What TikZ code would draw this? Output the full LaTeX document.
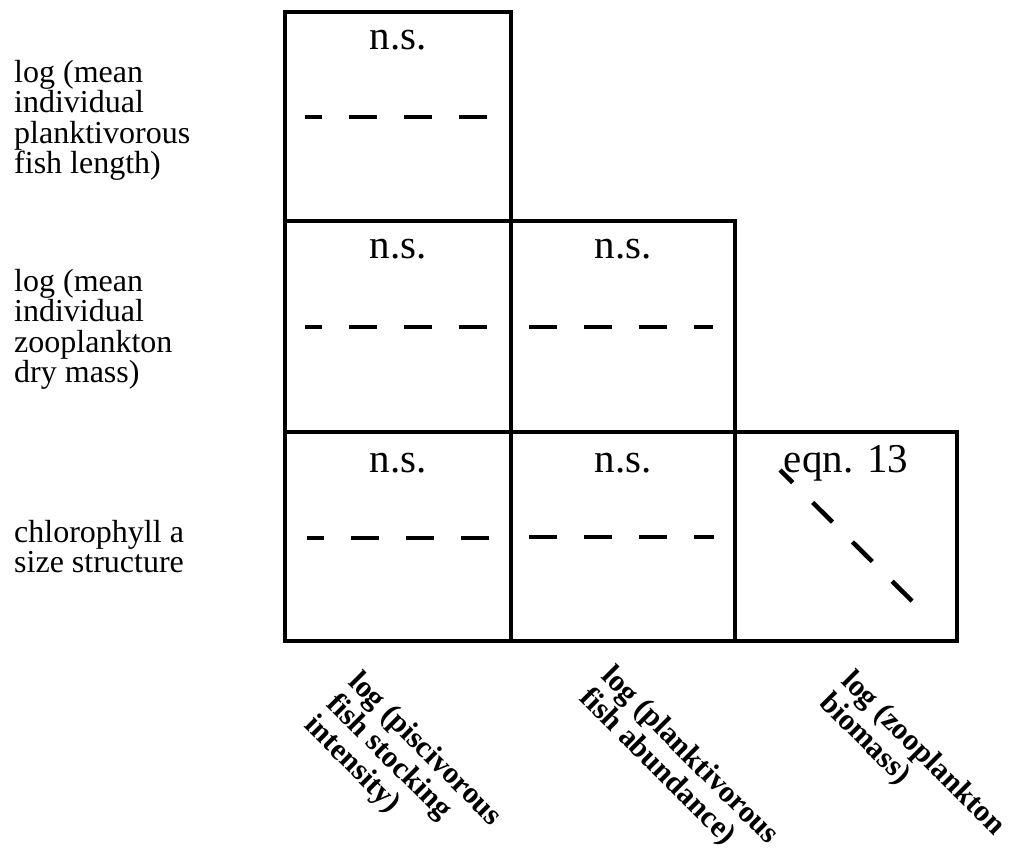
\documentclass[tikz,border=0pt]{standalone}
\usepackage{fontspec}
\setmainfont{Liberation Serif}
\begin{document}
\begin{tikzpicture}[x=1pt,y=-1pt,
  cell/.style={draw, line width=4.5pt, inner sep=0pt, outer sep=0pt},
  stat/.style={inner sep=0pt, font=\fontsize{41}{41}\selectfont},
  rowlab/.style={inner sep=0pt, anchor=base west, align=left, font=\fontsize{32}{30.5}\selectfont},
  collab/.style={inner sep=0pt, anchor=base west, align=left, rotate=-45, font=\fontsize{30.5}{31}\selectfont\bfseries},
  dashln/.style={line width=4.5pt, dash pattern=on 28pt off 27pt}
]
\useasboundingbox (0,0) rectangle (1019,856);
% cells
\node[cell, minimum width=226pt, minimum height=209pt] (r1c1) at (398,116.5) {};
\node[cell, minimum width=226pt, minimum height=211pt] (r2c1) at (398,326.5) {};
\node[cell, minimum width=224pt, minimum height=211pt] (r2c2) at (623,326.5) {};
\node[cell, minimum width=226pt, minimum height=209pt] (r3c1) at (398,536.5) {};
\node[cell, minimum width=224pt, minimum height=209pt] (r3c2) at (623,536.5) {};
\node[cell, minimum width=222pt, minimum height=209pt] (r3c3) at (846,536.5) {};
% statistics labels
\node[stat, anchor=base] (s11) at ([yshift=-38pt]r1c1.north) {n.s.};
\node[stat, anchor=base] (s21) at ([yshift=-37pt]r2c1.north) {n.s.};
\node[stat, anchor=base] (s22) at ([yshift=-37pt]r2c2.north) {n.s.};
\node[stat, anchor=base] (s31) at ([yshift=-40pt]r3c1.north) {n.s.};
\node[stat, anchor=base] (s32) at ([yshift=-40pt]r3c2.north) {n.s.};
\node[stat, anchor=base] (s33) at ([yshift=-40pt]r3c3.north) {eqn. 13};
% dashed relations
\coordinate (a11) at (305,117); \coordinate (b11) at (488,117);
\coordinate (a21) at (305,327); \coordinate (b21) at (490,327);
\coordinate (a22) at (529,327); \coordinate (b22) at (713,327);
\coordinate (a31) at (307,538); \coordinate (b31) at (491,538);
\coordinate (a32) at (529,537); \coordinate (b32) at (714,537);
\coordinate (a33) at (780,470); \coordinate (b33) at (913,602);
\draw[dashln, dash phase=11pt] (a11) -- (b11);
\draw[dashln, dash phase=11pt] (a21) -- (b21);
\draw[dashln] (a22) -- (b22);
\draw[dashln, dash phase=11pt] (a31) -- (b31);
\draw[dashln] (a32) -- (b32);
\draw[dashln, dash pattern=on 28pt off 28pt, dash phase=10pt] (a33) -- (b33);
% row labels (anchor is the baseline of the last line)
\node[rowlab] (l1) at (14,173.5) {log (mean\\individual\\planktivorous\\fish length)};
\node[rowlab] (l2) at (14,382.5) {log (mean\\individual\\zooplankton\\dry mass)};
\node[rowlab] (l3) at (14,572.5) {chlorophyll a\\size structure};
% column labels (anchor is the baseline start of the last line)
\node[collab] (c1) at (303.2,726.8) {log (piscivorous\\fish stocking\\intensity)};
\node[collab] (c2) at (578,699) {log (planktivorous\\fish abundance)};
\node[collab] (c3) at (818.1,703.9) {log (zooplankton\\biomass)};
\end{tikzpicture}
\end{document}
